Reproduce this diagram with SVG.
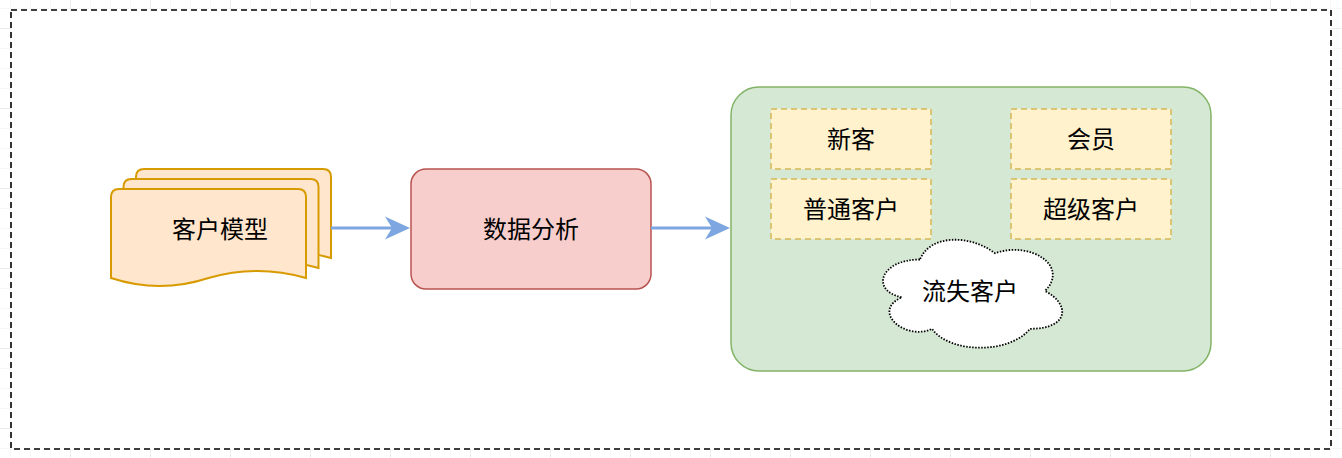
<svg xmlns="http://www.w3.org/2000/svg" width="1342" height="458" viewBox="0 0 1342 458">
<style>
.t{font-family:"Noto Sans CJK SC","Noto Sans",sans-serif;font-size:24px;fill:#000;text-anchor:middle}
.doc{fill:#ffe6cc;stroke:#d79b00;stroke-width:2}
.sub{fill:#fff2cc;stroke:#d6b656;stroke-width:1.5;stroke-dasharray:6 4}
.conn{stroke:#7ea6e0;stroke-width:3;fill:none}
</style>
<defs>
<pattern id="gminor" patternUnits="userSpaceOnUse" x="10" y="8" width="20" height="20">
<path d="M0,0 V20 M0,0 H20" stroke="#f0f0f0" stroke-width="1" fill="none"/>
</pattern>
<pattern id="gmajor" patternUnits="userSpaceOnUse" x="70" y="28" width="80" height="80">
<path d="M0,0 V80 M0,0 H80" stroke="#e0e0e0" stroke-width="1" fill="none"/>
</pattern>
<marker id="arr" markerUnits="userSpaceOnUse" viewBox="0 -12 26 24" markerWidth="26" markerHeight="24" refX="15" refY="0" orient="auto">
<path d="M0,-11.5 L25,0 L0,11.5 L7,0 Z" fill="#7ea6e0"/>
</marker>
</defs>
<rect width="1342" height="458" fill="#fff"/>
<rect width="1342" height="458" fill="url(#gminor)"/>
<rect width="1342" height="458" fill="url(#gmajor)"/>
<g id="frame">
<rect x="11" y="10" width="1320" height="439" fill="#fff" stroke="#000" stroke-width="1.6" stroke-dasharray="6 4"/>
</g>
<g id="customer-model">
<path class="doc" d="M136,258 L136,177 Q136,169 144,169 L323,169 Q331,169 331,177 L331,258 Q282.25,244 233.5,258 Q184.75,274 136,258 Z"/>
<path class="doc" d="M123.5,268 L123.5,187 Q123.5,179 131.5,179 L310.5,179 Q318.5,179 318.5,187 L318.5,268 Q269.75,254 221,268 Q172.25,284 123.5,268 Z"/>
<path class="doc" d="M111,278 L111,197 Q111,189 119,189 L298,189 Q306,189 306,197 L306,278 Q257.25,264 208.5,278 Q159.75,294 111,278 Z"/>
<text class="t" x="220" y="238">客户模型</text>
</g>
<g id="analysis">
<rect x="411" y="169" width="240" height="120" rx="15" fill="#f8cecc" stroke="#b85450" stroke-width="1.5"/>
<text class="t" x="531" y="238">数据分析</text>
</g>
<g id="segments">
<rect x="731" y="87" width="480" height="284" rx="28" fill="#d5e8d4" stroke="#82b366" stroke-width="1.5"/>
</g>
<g id="new-customer">
<rect class="sub" x="771" y="109" width="160" height="60"/>
<text class="t" x="851" y="148">新客</text>
</g>
<g id="member">
<rect class="sub" x="1011" y="109" width="160" height="60"/>
<text class="t" x="1091" y="148">会员</text>
</g>
<g id="normal-customer">
<rect class="sub" x="771" y="179" width="160" height="60"/>
<text class="t" x="851" y="218">普通客户</text>
</g>
<g id="super-customer">
<rect class="sub" x="1011" y="179" width="160" height="60"/>
<text class="t" x="1091" y="218">超级客户</text>
</g>
<g id="lost-customer">
<path d="M920,259.5 C880,259.5 870,291 902,297.3 C870,311.2 906,341.4 932,328.8 C950,354 1010,354 1030,328.8 C1070,328.8 1070,303.6 1045,291 C1070,265.8 1030,240.6 995,253.2 C970,234.3 930,234.3 920,259.5 Z" fill="#fff" stroke="#000" stroke-width="1.8" stroke-dasharray="1.5 1.5"/>
<text class="t" x="970" y="300">流失客户</text>
</g>
<g id="connectors">
<line class="conn" x1="331" y1="228" x2="400" y2="228" marker-end="url(#arr)"/>
<line class="conn" x1="651" y1="228" x2="720" y2="228" marker-end="url(#arr)"/>
</g>
</svg>
